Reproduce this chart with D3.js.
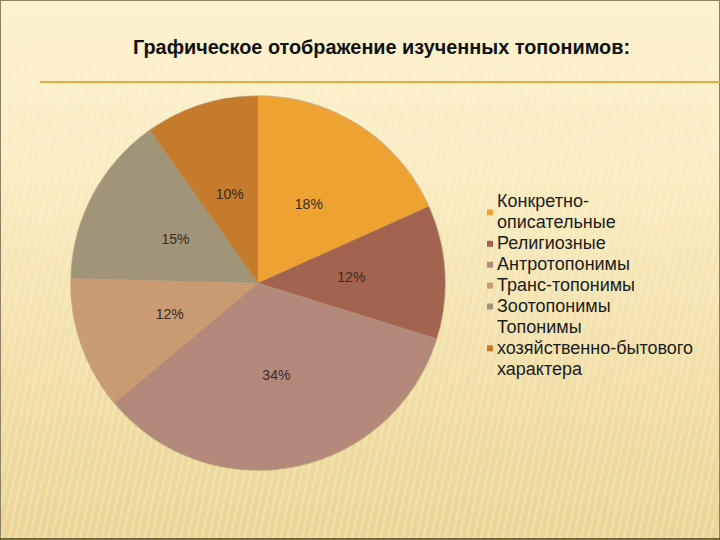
<!DOCTYPE html>
<html>
<head>
<meta charset="utf-8">
<script src="https://cdn.jsdelivr.net/npm/d3@7"></script>
<style>
  html, body { margin: 0; padding: 0; background: #f6e6b0; }
  svg { display: block; }
</style>
</head>
<body>
<svg id="chart" width="720" height="540"></svg>
<script>
// ---- data ----
const titleText = "Графическое отображение изученных топонимов:";
const categories = [
  "Конкретно-описательные",
  "Религиозные",
  "Антротопонимы",
  "Транс-топонимы",
  "Зоотопонимы",
  "Топонимы хозяйственно-бытового характера"
];
const legendLines = [
  ["Конкретно-", "описательные"],
  ["Религиозные"],
  ["Антротопонимы"],
  ["Транс-топонимы"],
  ["Зоотопонимы"],
  ["Топонимы", "хозяйственно-бытового", "характера"]
];
const values = [18.3, 11.5, 34.1, 11.5, 14.8, 9.8];
const colors = ["#EDA232", "#A3644F", "#B3897C", "#C89B72", "#A09579", "#C47B2B"];

// ---- layout ----
const W = 720, H = 540;
const cx = 258, cy = 283, R = 187;

const svg = d3.select("#chart");
const defs = svg.append("defs");

// background gradient
const bg = defs.append("linearGradient").attr("id", "bg")
  .attr("x1", 0).attr("y1", 0).attr("x2", 0).attr("y2", 1);
bg.append("stop").attr("offset", "0%").attr("stop-color", "#FCF2CE");
bg.append("stop").attr("offset", "30%").attr("stop-color", "#FAEDC2");
bg.append("stop").attr("offset", "100%").attr("stop-color", "#EAD491");

// stripes pattern
const pat = defs.append("pattern").attr("id", "stripes")
  .attr("patternUnits", "userSpaceOnUse").attr("width", 7).attr("height", 7)
  .attr("patternTransform", "rotate(12)");
pat.append("rect").attr("x", 0).attr("y", 0).attr("width", 2.5).attr("height", 7)
  .attr("fill", "#ffffff").attr("opacity", 0.3);

const fade = defs.append("linearGradient").attr("id", "fade")
  .attr("x1", 0).attr("y1", 0).attr("x2", 0).attr("y2", 1);
fade.append("stop").attr("offset", "0%").attr("stop-color", "#fff").attr("stop-opacity", 0);
fade.append("stop").attr("offset", "15%").attr("stop-color", "#fff").attr("stop-opacity", 0.5);
fade.append("stop").attr("offset", "100%").attr("stop-color", "#fff").attr("stop-opacity", 0.8);
defs.append("mask").attr("id", "fmask")
  .append("rect").attr("width", W).attr("height", H).attr("fill", "url(#fade)");

svg.append("rect").attr("width", W).attr("height", H).attr("fill", "url(#bg)");
svg.append("rect").attr("width", W).attr("height", H).attr("fill", "url(#stripes)")
  .attr("mask", "url(#fmask)");

// border
svg.append("rect").attr("x", 0.5).attr("y", 0.5).attr("width", W - 1).attr("height", H - 1)
  .attr("fill", "none").attr("stroke", "#8C8160").attr("stroke-width", 1);
svg.append("line").attr("x1", 0).attr("x2", W).attr("y1", H - 1).attr("y2", H - 1)
  .attr("stroke", "#6E6A3E").attr("stroke-width", 2);

// title
svg.append("text")
  .attr("x", 133).attr("y", 54)
  .attr("textLength", 497)
  .attr("lengthAdjust", "spacingAndGlyphs")
  .attr("font-family", "'Liberation Sans', Arial, sans-serif")
  .attr("font-weight", "bold")
  .attr("font-size", 21)
  .attr("fill", "#111")
  .text(titleText);

// rule under title
svg.append("line").attr("x1", 40).attr("x2", W).attr("y1", 82).attr("y2", 82)
  .attr("stroke", "#E3A848").attr("stroke-width", 2);

// pie
const pie = d3.pie().sort(null).value(d => d);
const arcs = pie(values);
const arc = d3.arc().innerRadius(0).outerRadius(R);
const labelArc = d3.arc().innerRadius(R * 0.5).outerRadius(R * 0.5);
const total = d3.sum(values);

const g = svg.append("g").attr("transform", `translate(${cx},${cy})`);
g.append("circle").attr("r", R + 0.8).attr("fill", "#6b4a30").attr("opacity", 0.35);
g.selectAll("path.slice").data(arcs).enter().append("path")
  .attr("class", "slice")
  .attr("d", arc)
  .attr("fill", (d, i) => colors[i]);

g.selectAll("text.lbl").data(arcs).enter().append("text")
  .attr("class", "lbl")
  .attr("transform", d => `translate(${labelArc.centroid(d)})`)
  .attr("text-anchor", "middle")
  .attr("dy", "0.35em")
  .attr("font-family", "'Liberation Sans', Arial, sans-serif")
  .attr("font-size", 14)
  .attr("fill", "#3a2a22")
  .text(d => Math.round(d.value / total * 100) + "%");

// legend
const lx = 497, ly0 = 201, lh = 20.9;
const lg = svg.append("g");
let line = 0;
legendLines.forEach((lines, i) => {
  const start = line;
  lines.forEach((t, j) => {
    lg.append("text")
      .attr("x", lx).attr("y", ly0 + (start + j) * lh)
      .attr("dy", "0.35em")
      .attr("font-family", "'Liberation Sans', Arial, sans-serif")
      .attr("font-size", 18)
      .attr("fill", "#1c1c1c")
      .text(t);
  });
  const mid = ly0 + (start + (lines.length - 1) / 2) * lh;
  lg.append("rect")
    .attr("x", 487).attr("y", mid - 2).attr("width", 6).attr("height", 6)
    .attr("fill", colors[i]);
  line += lines.length;
});
</script>
</body>
</html>
